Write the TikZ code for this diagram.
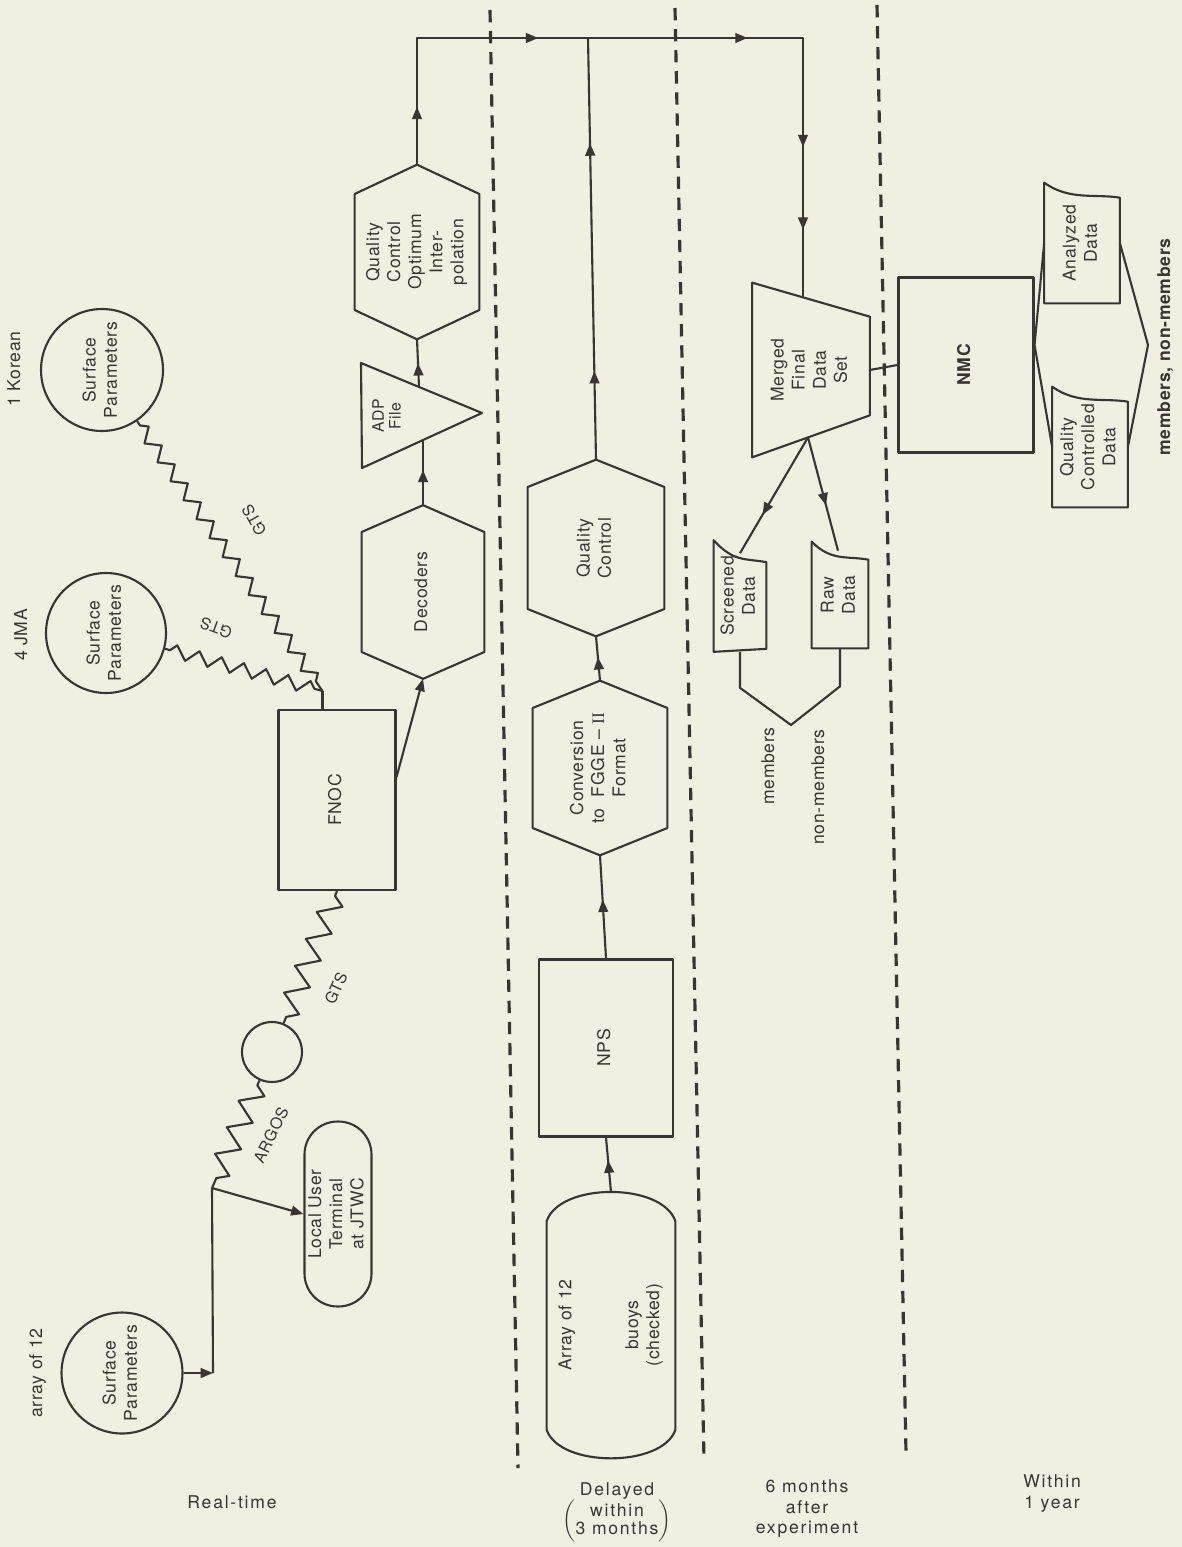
\documentclass[tikz,border=0pt]{standalone}
\usepackage{fontspec}
\setmainfont{TeX Gyre Heros}[LetterSpace=4]
\newfontfamily\numeralfont{Liberation Serif}
\usepackage{graphicx}
\usetikzlibrary{arrows.meta, calc, decorations.pathmorphing, decorations.markings, positioning}
\definecolor{ink}{HTML}{3A3432}
\definecolor{paper}{HTML}{F0EFE1}
\newcommand{\vt}[1]{\rotatebox{90}{\begin{tabular}{@{}c@{}}#1\end{tabular}}}
\newcommand{\hexframe}[2]{\draw[shapeline] (#1.north) -- ($(#1.east)+(0,-#2)$)
  -- ($(#1.east)+(0,#2)$) -- (#1.south) -- ($(#1.west)+(0,#2)$)
  -- ($(#1.west)+(0,-#2)$) -- cycle;}
\tikzset{
  % testo del diagramma
  txt/.style={text=ink, inner sep=0pt, font=\fontsize{10}{12}\selectfont},
  small txt/.style={txt, font=\fontsize{9}{9.5}\selectfont},
  wide txt/.style={txt, font=\fontsize{10}{11.5}\selectfont\addfontfeature{LetterSpace=10}},
  % contorni
  shapeline/.style={draw=ink, line width=1.2pt, line join=round},
  box/.style={txt, shapeline},
  circ/.style={box, circle},
  stadium/.style={box, rounded corners=0.66cm},
  hexnode/.style={txt},
  card/.style={txt},
  % collegamenti
  flow/.style={ink, line width=1.2pt, line join=round},
  endtip/.style={-{Triangle[length=7pt, width=5.5pt]}},
  midtip/.style={postaction={decorate, decoration={markings,
      mark=at position #1 with {\arrow{Triangle[length=7pt, width=5.5pt]}}}}},
  % linee dentellate (GTS, ARGOS)
  fine zigzag/.style={decorate, decoration={zigzag, segment length=0.46cm,
      amplitude=0.13cm, pre length=3pt, post length=3pt}},
  wide zigzag/.style={decorate, decoration={zigzag, segment length=0.58cm,
      amplitude=0.22cm, pre length=3pt, post length=3pt}},
  % separatori fra le fasi
  phase sep/.style={draw=ink, line width=1.8pt, dash pattern=on 7pt off 5pt},
}

\begin{document}
\begin{tikzpicture}[x=0.02cm, y=-0.02cm]
  \fill[paper] (0,0) rectangle (1182,1547);

  \draw[phase sep] (490,10) -- (518,1468);
  \draw[phase sep] (675,8) -- (704,1460);
  \draw[phase sep] (877,5) -- (906,1453);

  \node[txt] (korean) at (16,369) {\vt{1 Korean}};
  \node[txt] (jma) at (23,635) {\vt{4 JMA}};
  \node[txt] (array) at (38,1373) {\vt{array of 12}};
  \node[circ, minimum size=2.44cm] (korsp) at (102,370) {\vt{Surface\\Parameters}};
  \node[circ, minimum size=2.40cm] (jmasp) at (106,633) {\vt{Surface\\Parameters}};
  \node[circ, minimum size=2.42cm] (arrsp) at (122,1373) {\vt{Surface\\Parameters}};
  \node[circ, minimum size=1.20cm] (relay) at (272,1052) {};
  \node[stadium, minimum width=1.34cm, minimum height=3.7cm] (lut) at (338,1214) {\vt{Local User\\Terminal\\at JTWC}};
  \node[box, minimum width=2.34cm, minimum height=3.6cm] (fnoc) at (337,800) {\vt{FNOC}};

  \node[hexnode, minimum width=2.44cm, minimum height=3.46cm] (dec) at (423,592) {\vt{Decoders}};
  \hexframe{dec}{60}
  \node[small txt] (adp) at (389,416) {\vt{ADP\\File}};
  \draw[shapeline] ($(adp)+(-28,-53)$) -- ($(adp)+(93,-3)$) -- ($(adp)+(-27,52)$) -- cycle;
  \node[hexnode, minimum width=2.48cm, minimum height=3.48cm] (qcoi) at (417,252) {\vt{Quality\\Control\\Optimum\\Inter-\\polation}};
  \hexframe{qcoi}{58}

  \node[hexnode, minimum width=2.72cm, minimum height=3.52cm] (qc) at (596,548) {\vt{Quality\\Control}};
  \hexframe{qc}{61}
  \node[hexnode, minimum width=2.68cm, minimum height=3.48cm] (conv) at (600,768) {\vt{Conversion\\to\ \ FGGE -- {\numeralfont II}\\Format}};
  \hexframe{conv}{60}
  \node[box, minimum width=2.68cm, minimum height=3.54cm] (nps) at (606,1048) {\vt{NPS}};
  \node[hexnode, minimum width=2.56cm, minimum height=5.3cm] (buoys) at (611,1325) {\vt{Array of 12\\[26pt]buoys\\(checked)}};
  \draw[shapeline] ($(buoys.north west)+(0,29)$) .. controls ($(buoys.north west)+(13,-10)$) and ($(buoys.north east)+(-13,-10)$) .. ($(buoys.north east)+(0,29)$)
    -- ($(buoys.south east)+(0,-28)$) .. controls ($(buoys.south east)+(-13,10)$) and ($(buoys.south west)+(13,10)$) .. ($(buoys.south west)+(0,-28)$) -- cycle;

  \node[hexnode, minimum width=2.34cm, minimum height=3.48cm] (merged) at (811,370) {\vt{Merged\\Final\\Data\\Set}};
  \draw[shapeline] (merged.north west) -- ($(merged.north east)+(0,34)$) -- ($(merged.south east)+(0,-42)$) -- (merged.south west) -- cycle;
  \node[card, minimum width=1.04cm, minimum height=2.22cm] (screened) at (740,596) {\vt{Screened\\Data}};
  \draw[shapeline] (screened.north west) .. controls +(20,22) and +(-22,-4) .. ($(screened.north east)+(0,22)$)
    -- ($(screened.south east)+(0,-3)$) -- (screened.south west) -- cycle;
  \node[card, minimum width=1.12cm, minimum height=2.12cm] (raw) at (840,595) {\vt{Raw\\Data}};
  \draw[shapeline] (raw.north west) .. controls +(20,20) and +(-22,-4) .. ($(raw.north east)+(0,18)$)
    -- (raw.south east) -- (raw.south west) -- cycle;
  \node[txt] (memb) at (770,766) {\vt{members}};
  \node[txt] (nonmemb) at (820,787) {\vt{non-members}};

  \node[box, minimum width=2.7cm, minimum height=3.5cm, font=\fontsize{10}{12}\selectfont\bfseries] (nmc) at (966,365) {\vt{NMC}};
  \node[card, minimum width=1.5cm, minimum height=2.4cm] (andata) at (1082,243) {\vt{Analyzed\\Data}};
  \draw[shapeline] (andata.north west) .. controls +(25,18) and +(-25,-4) .. ($(andata.north east)+(0,15)$)
    -- (andata.south east) -- (andata.south west) -- cycle;
  \node[card, minimum width=1.5cm, minimum height=2.4cm] (qcdata) at (1090,447) {\vt{Quality\\Controlled\\Data}};
  \draw[shapeline] (qcdata.north west) .. controls +(25,18) and +(-25,-4) .. ($(qcdata.north east)+(0,15)$)
    -- (qcdata.south east) -- (qcdata.south west) -- cycle;
  \node[txt, font=\fontsize{10}{12}\selectfont\bfseries] (allmemb) at (1166,347) {\vt{members, non-members}};

  \coordinate (hub) at ($(fnoc.north west)+(45,-18)$);
  \coordinate (split) at (212,1188);
  \coordinate (bend) at (213,1373);
  \draw[flow, fine zigzag] (korsp) -- (hub);
  \draw[flow, fine zigzag] (jmasp) -- (hub);
  \draw[flow] (hub) -- (hub |- fnoc.north);
  \draw[flow, wide zigzag] (fnoc.south) -- (relay);
  \draw[flow, wide zigzag] (relay) -- (split);
  \draw[flow, endtip] (arrsp.east) -- (bend);
  \draw[flow] (bend) -- (split);
  \draw[flow, endtip] (split) -- (lut.west);
  \node[small txt, rotate=119.5] (gtskor) at (254,520) {GTS};
  \node[small txt, rotate=160] (gtsjma) at (216,628) {GTS};
  \node[small txt, rotate=65] (gtsfnoc) at (336,988) {GTS};
  \node[small txt, rotate=64] (argos) at (271,1135) {ARGOS};

  \draw[flow, endtip] ($(fnoc.east)+(0,-23)$) -- (dec.south);
  \draw[flow, midtip=0.55] (dec.north) -- ($(adp)+(34,25)$);
  \draw[flow, midtip=0.5] ($(adp)+(30,-29)$) -- (qcoi.south);

  \coordinate (turn) at (417,38);
  \coordinate (jn) at (588,38);
  \coordinate (drop) at (803,38);
  \draw[flow, midtip=0.075, midtip=0.321, midtip=0.592, midtip=0.805, midtip=0.912]
    (qcoi.north) -- (turn) -- (drop) -- ($(merged.north)+(-8,15)$);
  \draw[flow, midtip=0.21, midtip=0.75] (qc.north) -- (jn);
  \draw[flow, midtip=0.53] (conv.north) -- (qc.south);
  \draw[flow, midtip=0.57] (nps.north) -- (conv.south);
  \draw[flow, midtip=0.58] (buoys.north) -- (nps.south);

  \draw[flow, midtip=0.67] ($(merged.south)+(-3,-20)$) -- ($(screened.north)+(0,13)$);
  \draw[flow, midtip=0.6] ($(merged.south)+(-3,-20)$) -- ($(raw.north)+(-2,9)$);
  \draw[flow] (screened.south) -- ++(0,36) -- (791,725) -- ($(raw.south)+(0,38)$) -- (raw.south);
  \draw[flow] (merged.east) -- (nmc.west);
  \coordinate (nmcjoin) at ($(nmc.east)+(0,-20)$);
  \coordinate (outjoin) at (1148,345);
  \draw[flow] (andata.west) -- (nmcjoin) -- (qcdata.west);
  \draw[flow] (andata.east) -- (outjoin) -- (qcdata.east);

  \node[wide txt] (realtime) at (232,1502) {Real-time};
  \node[wide txt] (delayed) at (617,1512) {\begin{tabular}{@{}c@{}}Delayed\\[-1pt]$\left(\renewcommand{\arraystretch}{0.8}\begin{tabular}{@{}c@{}}within\\3 months\end{tabular}\right)$\end{tabular}};
  \node[wide txt] (sixmonths) at (807,1509) {\begin{tabular}{@{}c@{}}6 months\\after\\experiment\end{tabular}};
  \node[wide txt] (oneyear) at (1052,1494) {\begin{tabular}{@{}c@{}}Within\\1 year\end{tabular}};
\end{tikzpicture}
\end{document}
